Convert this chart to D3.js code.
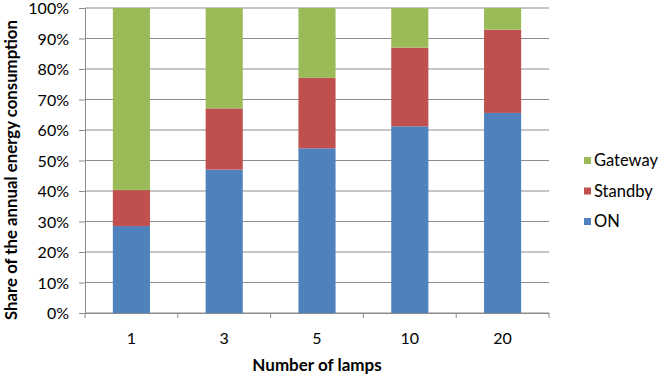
<!DOCTYPE html>
<html>
<head>
<meta charset="utf-8">
<script src="https://cdn.jsdelivr.net/npm/d3@7"></script>
<style>
  body { margin: 0; background: white; }
  text { font-family: Lato, "Open Sans", sans-serif; fill: #000; }
</style>
</head>
<body>
<script>
const width = 663;
const height = 377;

// data (percent of annual consumption)
const lamps = ["1", "3", "5", "10", "20"];
const onShare = [28.5, 47, 54, 61.2, 65.6];
const standbyShare = [11.8, 20.1, 23.1, 25.8, 27.3];
const gatewayShare = [59.7, 32.9, 22.9, 13, 7.1];
const seriesNames = ["ON", "Standby", "Gateway"];
const seriesColors = ["#4F81BD", "#C0504D", "#9BBB59"];
const yTicks = [0, 10, 20, 30, 40, 50, 60, 70, 80, 90, 100];

const rows = lamps.map((l, i) => ({
  lamps: l, ON: onShare[i], Standby: standbyShare[i], Gateway: gatewayShare[i]
}));

const margin = { left: 85, right: 114, top: 8, bottom: 64 };
const fontSize = 16;

const svg = d3.select("body")
  .append("svg")
  .attr("width", width)
  .attr("height", height);

const x = d3.scaleBand()
  .domain(lamps)
  .range([margin.left, width - margin.right])
  .paddingInner(0.6)
  .paddingOuter(0.3);

const y = d3.scaleLinear()
  .domain([0, 100])
  .range([height - margin.bottom, margin.top]);

// gridlines
svg.append("g")
  .selectAll("line")
  .data(yTicks)
  .enter()
  .append("line")
  .attr("x1", margin.left)
  .attr("x2", width - margin.right)
  .attr("y1", d => y(d))
  .attr("y2", d => y(d))
  .attr("stroke", "#8c8c8c")
  .attr("stroke-width", 1);

// stacked bars
const stack = d3.stack().keys(seriesNames);
const layers = stack(rows);

svg.append("g")
  .selectAll("g")
  .data(layers)
  .enter()
  .append("g")
  .attr("fill", (d, i) => seriesColors[i])
  .selectAll("rect")
  .data(d => d)
  .enter()
  .append("rect")
  .attr("x", d => x(d.data.lamps))
  .attr("width", x.bandwidth())
  .attr("y", d => y(d[1]))
  .attr("height", d => y(d[0]) - y(d[1]));

// y axis
const yAxis = svg.append("g")
  .attr("transform", `translate(${margin.left},0)`)
  .call(d3.axisLeft(y).tickValues(yTicks).tickFormat(d => d + "%").tickSize(6).tickPadding(10));
yAxis.selectAll("text").attr("font-size", fontSize).attr("dy", "0.36em");

// x axis
const xAxis = svg.append("g")
  .attr("transform", `translate(0,${height - margin.bottom})`)
  .call(d3.axisBottom(x).tickSize(0).tickPadding(20));
xAxis.selectAll("text").attr("font-size", fontSize);

// x ticks between categories
const step = x.step();
const bounds = d3.range(lamps.length + 1).map(i => margin.left + i * step);
xAxis.selectAll(".bound")
  .data(bounds)
  .enter()
  .append("line")
  .attr("class", "bound")
  .attr("x1", d => d)
  .attr("x2", d => d)
  .attr("y1", 0)
  .attr("y2", 5)
  .attr("stroke", "#8c8c8c");

svg.selectAll(".domain").attr("stroke", "#8c8c8c");
svg.selectAll(".tick line").attr("stroke", "#8c8c8c");

// axis titles
svg.append("text")
  .attr("x", (margin.left + width - margin.right) / 2)
  .attr("y", 371)
  .attr("text-anchor", "middle")
  .attr("font-size", 17)
  .attr("font-weight", "bold")
  .text("Number of lamps");

svg.append("text")
  .attr("transform", "translate(17,170) rotate(-90)")
  .attr("text-anchor", "middle")
  .attr("font-size", 16.8)
  .attr("font-weight", "bold")
  .text("Share of the annual energy consumption");

// legend (Gateway on top)
const legendItems = [2, 1, 0];
const legend = svg.append("g")
  .selectAll("g")
  .data(legendItems)
  .enter()
  .append("g")
  .attr("transform", (d, i) => `translate(584,${160.5 + i * 30.5})`);

legend.append("rect")
  .attr("x", 0)
  .attr("y", -3.5)
  .attr("width", 7)
  .attr("height", 7)
  .attr("fill", d => seriesColors[d]);

legend.append("text")
  .attr("x", 10)
  .attr("y", 0)
  .attr("dy", "0.36em")
  .attr("font-size", 16.5)
  .text(d => seriesNames[d]);
</script>
</body>
</html>
